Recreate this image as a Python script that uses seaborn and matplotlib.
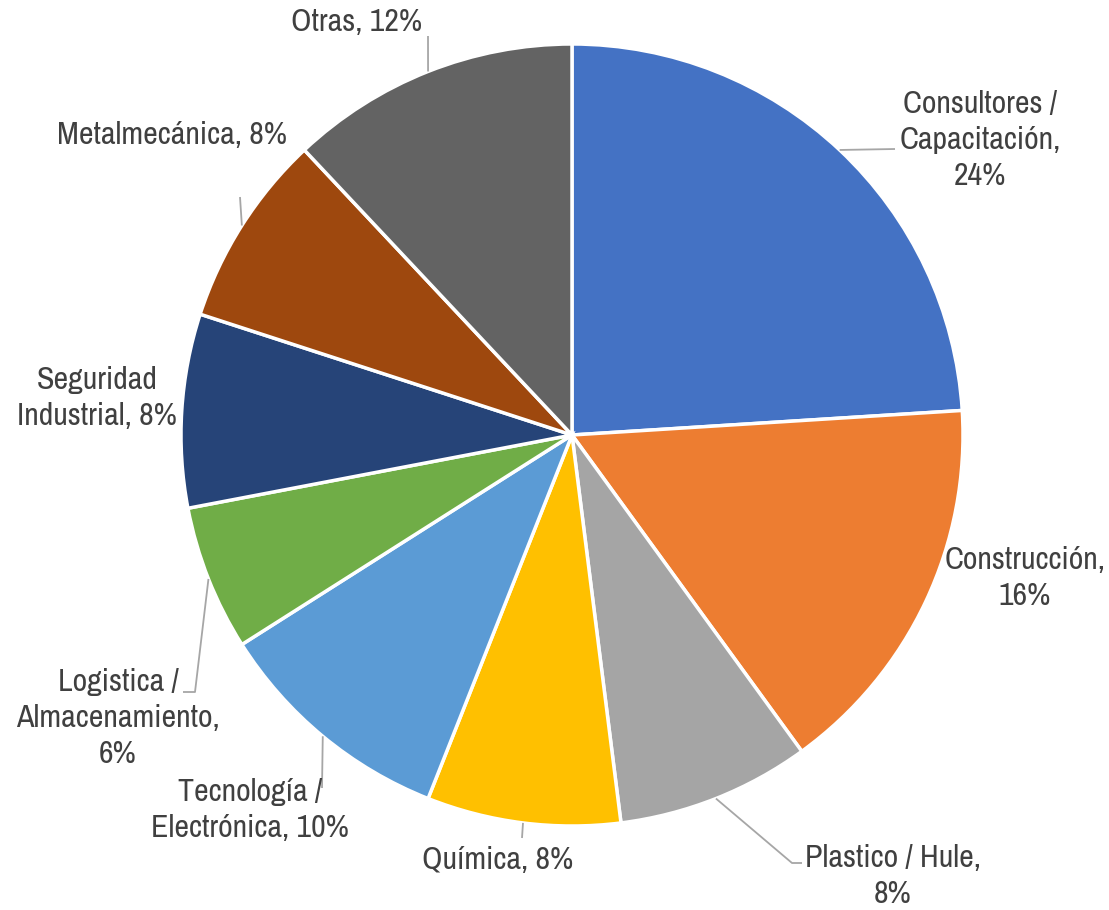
import numpy as np
import matplotlib
matplotlib.use("Agg")
import matplotlib.pyplot as plt
from matplotlib import font_manager
import seaborn as sns

# data
sectores = ["Consultores /\nCapacitación", "Construcción", "Plastico / Hule",
            "Química", "Tecnología /\nElectrónica", "Logistica /\nAlmacenamiento",
            "Seguridad\nIndustrial", "Metalmecánica", "Otras"]
porcentajes = [24, 16, 8, 8, 10, 6, 8, 8, 12]
etiquetas = ["Consultores /\nCapacitación,\n24%", "Construcción,\n16%",
             "Plastico / Hule,\n8%", "Química, 8%", "Tecnología /\nElectrónica, 10%",
             "Logistica /\nAlmacenamiento,\n6%", "Seguridad\nIndustrial, 8%",
             "Metalmecánica, 8%", "Otras, 12%"]
colores = ["#4472C4", "#ED7D31", "#A5A5A5", "#FFC000", "#5B9BD5",
           "#70AD47", "#264478", "#9E480E", "#636363"]

sns.set_theme(style="white")

# look for a narrow face, else fall back to Liberation Sans a bit smaller
narrow = [f.name for f in font_manager.fontManager.ttflist
          if 'Narrow' in f.name or 'Condensed' in f.name]
if narrow:
    fam, fsize, lsp = [narrow[0], 'DejaVu Sans'], 23, 1.33
else:
    fam, fsize, lsp = ['Liberation Sans', 'DejaVu Sans'], 19.5, 1.5
plt.rcParams['font.family'] = fam

W, H, R = 1109, 910, 391
cx, cy = 572, 435

fig = plt.figure(figsize=(W / 100, H / 100), dpi=100)
ax = fig.add_axes([0, 0, 1, 1])

wedges, _ = ax.pie(porcentajes, colors=colores, startangle=90, counterclock=False,
                   radius=1.0, wedgeprops=dict(edgecolor='white', linewidth=2.5))
ax.set_xlim(-cx / R, (W - cx) / R)
ax.set_ylim(-(H - cy) / R, cy / R)
ax.set_aspect('equal')
ax.axis('off')

# label positions in pixels (centre of text) and leader elbow points
pos_px = [(980, 140), (1025, 578), (893, 876), (498, 860), (250, 810),
          (118, 718), (97, 398), (172, 135), (357, 22)]
leaders = {
    0: [(895, 149)],
    2: [(792, 863), (802, 863)],
    3: [(522, 838)],
    4: [(322, 788)],
    5: [(195, 692), (183, 692)],
    7: [(240, 197)],
    8: [(428, 36)],
}

def to_data(p):
    return (p[0] - cx) / R, (cy - p[1]) / R

for i, w in enumerate(wedges):
    mid = np.deg2rad((w.theta1 + w.theta2) / 2)
    x, y = to_data(pos_px[i])
    ax.text(x, y, etiquetas[i], ha='center', va='center', fontsize=fsize,
            color='#404040', linespacing=lsp)
    if i in leaders:
        pts = [(np.cos(mid), np.sin(mid))] + [to_data(p) for p in leaders[i]]
        xs, ys = zip(*pts)
        ax.plot(xs, ys, color='#A6A6A6', linewidth=1.3, solid_capstyle='butt')

fig.savefig("out.png", dpi=100)
plt.close()
